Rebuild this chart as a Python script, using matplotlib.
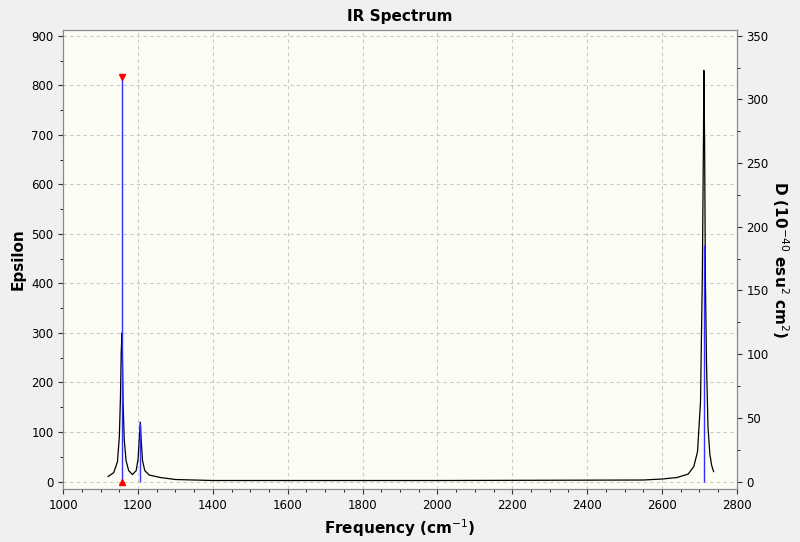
import matplotlib.pyplot as plt

# broadened spectrum (frequency cm-1, epsilon)
curve_freq = [1120, 1135, 1145, 1150, 1153, 1155, 1157, 1158, 1160, 1163, 1168, 1175, 1185,
              1195, 1200, 1204, 1206, 1208, 1212, 1218, 1230, 1260, 1300, 1400, 2000,
              2550, 2600, 2640, 2670, 2685, 2695, 2703, 2708, 2711, 2712, 2714, 2716,
              2719, 2723, 2728, 2733, 2738]
curve_eps = [10, 18, 40, 90, 170, 260, 300, 270, 160, 85, 42, 22, 14,
             22, 45, 95, 120, 88, 42, 22, 13, 8, 4, 2, 2,
             3, 5, 8, 15, 30, 60, 160, 420, 700, 830, 680, 410,
             240, 110, 55, 32, 20]

# stick spectrum (frequency cm-1, D in 1e-40 esu^2 cm^2)
stick_freq = [1156, 1206, 2713]
stick_d = [318, 46, 186]

fig = plt.figure(figsize=(8, 5.42), dpi=100, facecolor="#f0f0f0")
ax = fig.add_axes([0.079, 0.097, 0.842, 0.848], facecolor="#fdfdf6")
ax2 = ax.twinx()

ax.plot(curve_freq, curve_eps, color="black", lw=0.9, zorder=3)
ax2.vlines(stick_freq, 0, stick_d, color="#3030ff", lw=1, zorder=2)
ax2.plot([stick_freq[0]], [stick_d[0]], marker="v", color="red", ms=5, clip_on=False)
ax2.plot([stick_freq[0]], [0], marker="^", color="red", ms=5, clip_on=False)

ax.set_xlim(1000, 2800)
ax.set_ylim(-16, 912)
ax2.set_ylim(-16 * 350 / 900, 912 * 350 / 900)
ax.set_xticks(range(1000, 2801, 200))
ax.set_xticks(range(1000, 2801, 50), minor=True)
ax.set_yticks(range(0, 901, 100))
ax.set_yticks(range(0, 901, 50), minor=True)
ax2.set_yticks(range(0, 351, 50))
ax2.set_yticks(range(0, 351, 25), minor=True)
ax.grid(True, which="major", ls=(0, (3, 3)), color="#c8c8c8", lw=0.8)

for a in (ax, ax2):
    a.tick_params(labelsize=8.5, direction="out", color="#333333")
    for s in a.spines.values():
        s.set_color("#888888")

ax.set_title("IR Spectrum", fontsize=11, fontweight="bold", pad=6)
ax.set_xlabel("Frequency (cm$^{-1}$)", fontsize=11, fontweight="bold")
ax.set_ylabel("Epsilon", fontsize=11, fontweight="bold")
ax2.set_ylabel("D (10$^{-40}$ esu$^{2}$ cm$^{2}$)", fontsize=11, fontweight="bold",
               rotation=270, labelpad=16)

fig.savefig("out.png", dpi=100, facecolor=fig.get_facecolor())
